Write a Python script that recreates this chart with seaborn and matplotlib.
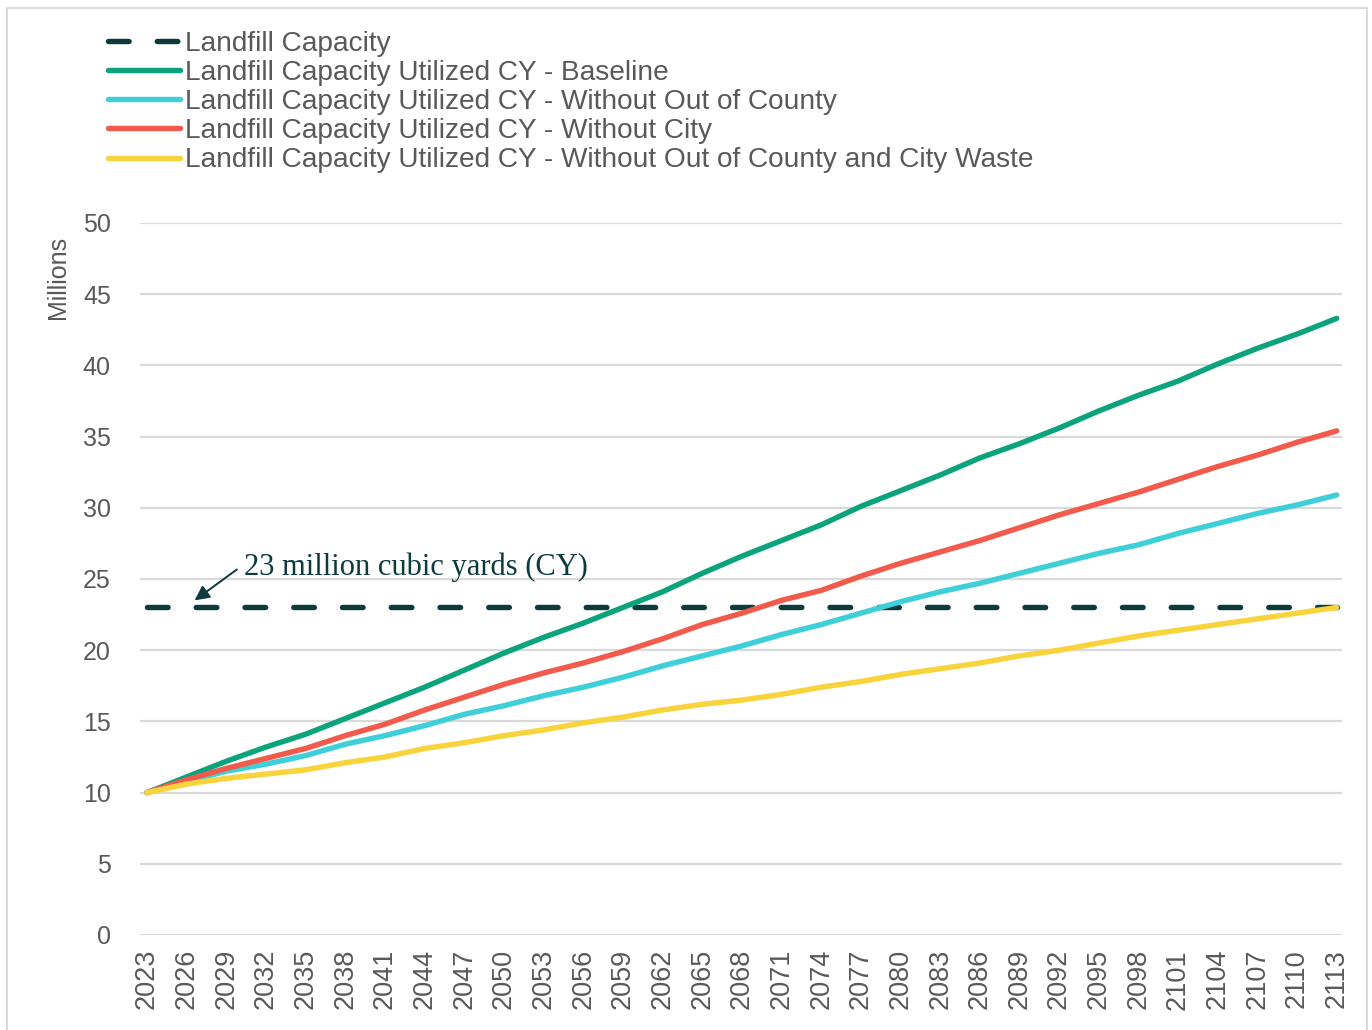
import matplotlib
matplotlib.use("Agg")
import matplotlib.pyplot as plt
import seaborn as sns
import pandas as pd
from matplotlib.patches import Rectangle

# ---- data (millions of cubic yards) ----
years = [2023, 2026, 2029, 2032, 2035, 2038, 2041, 2044, 2047, 2050, 2053,
         2056, 2059, 2062, 2065, 2068, 2071, 2074, 2077, 2080, 2083, 2086,
         2089, 2092, 2095, 2098, 2101, 2104, 2107, 2110, 2113]

baseline = [10.0, 11.1, 12.2, 13.2, 14.1, 15.2, 16.3, 17.4, 18.6, 19.8, 20.9,
            21.9, 23.0, 24.1, 25.4, 26.6, 27.7, 28.8, 30.1, 31.2, 32.3, 33.5,
            34.5, 35.6, 36.8, 37.9, 38.9, 40.1, 41.2, 42.2, 43.3]

without_out_of_county = [10.0, 10.8, 11.5, 12.0, 12.6, 13.4, 14.0, 14.7, 15.5, 16.1, 16.8,
                         17.4, 18.1, 18.9, 19.6, 20.3, 21.1, 21.8, 22.6, 23.4, 24.1, 24.7,
                         25.4, 26.1, 26.8, 27.4, 28.2, 28.9, 29.6, 30.2, 30.9]

without_city = [10.0, 10.9, 11.7, 12.4, 13.1, 14.0, 14.8, 15.8, 16.7, 17.6, 18.4,
                19.1, 19.9, 20.8, 21.8, 22.6, 23.5, 24.2, 25.2, 26.1, 26.9, 27.7,
                28.6, 29.5, 30.3, 31.1, 32.0, 32.9, 33.7, 34.6, 35.4]

without_both = [10.0, 10.6, 11.0, 11.3, 11.6, 12.1, 12.5, 13.1, 13.5, 14.0, 14.4,
                14.9, 15.3, 15.8, 16.2, 16.5, 16.9, 17.4, 17.8, 18.3, 18.7, 19.1,
                19.6, 20.0, 20.5, 21.0, 21.4, 21.8, 22.2, 22.6, 23.0]

capacity_years = [2023, 2113]
capacity_values = [23.0, 23.0]

labels = [
    "Landfill Capacity",
    "Landfill Capacity Utilized CY - Baseline",
    "Landfill Capacity Utilized CY - Without Out of County",
    "Landfill Capacity Utilized CY - Without City",
    "Landfill Capacity Utilized CY - Without Out of County and City Waste",
]
colors = ["#0b3b3d", "#0aa37c", "#3ecfd8", "#f25b4b", "#f8d33c"]

y_ticks = [0, 5, 10, 15, 20, 25, 30, 35, 40, 45, 50]
annotation_text = "23 million cubic yards (CY)"

# ---- styling ----
sns.set_theme(style="white")
plt.rcParams["font.family"] = ["Liberation Sans", "DejaVu Sans"]

W, H = 1372, 1030
fig = plt.figure(figsize=(W / 100, H / 100), dpi=100)
ax = fig.add_axes([140 / W, 1 - 935 / H, (1342 - 140) / W, (935 - 223) / H])

lw = 3.9
series = [baseline, without_out_of_county, without_city, without_both]
for vals, lab, col in zip(series, labels[1:], colors[1:]):
    df = pd.DataFrame({"year": years, "value": vals})
    sns.lineplot(data=df, x="year", y="value", ax=ax, color=col, lw=lw,
                 label=lab, solid_capstyle="round", solid_joinstyle="round",
                 legend=False)

cap_df = pd.DataFrame({"year": capacity_years, "value": capacity_values})
sns.lineplot(data=cap_df, x="year", y="value", ax=ax, color=colors[0], lw=lw,
             label=labels[0], dash_capstyle="round", legend=False)
cap_line = ax.lines[-1]
cap_line.set_dashes((3.8, 5.2))
cap_line.set_zorder(1.5)

ax.set_xlim(2022.47, 2113.4)
ax.set_ylim(0, 50)
ax.set_yticks(y_ticks)
ax.set_xticks(years)
ax.set_xticklabels([str(y) for y in years], rotation=90, fontsize=19.5,
                   color="#595959")
ax.set_yticklabels([str(v) for v in y_ticks], fontsize=18, color="#595959")
ax.tick_params(axis="y", length=0, pad=21)
ax.tick_params(axis="x", length=0, pad=10)
ax.grid(axis="y", color="#d9d9d9", lw=1.6)
ax.set_axisbelow(True)
for s in ax.spines.values():
    s.set_visible(False)

ax.set_xlabel("")
ax.set_ylabel("Millions", fontsize=18, color="#595959")
ax.yaxis.set_label_coords((70 - 140) / (1342 - 140), (935 - 277) / (935 - 223))

# annotation for the capacity line
ax.annotate(annotation_text, xy=(2026.6, 23.5), xytext=(2030.3, 25.8),
            fontsize=22, family=["Liberation Serif", "DejaVu Serif"],
            color="#0b3b3d", ha="left", va="center",
            arrowprops=dict(arrowstyle="-|>", color="#0b3b3d", lw=1.4,
                            mutation_scale=22, relpos=(0, 0.6),
                            shrinkA=3, shrinkB=0))

# legend above the plot area
handles, labs = ax.get_legend_handles_labels()
order = [labs.index(l) for l in labels]
fig.legend([handles[i] for i in order], [labs[i] for i in order],
           loc="upper left", bbox_to_anchor=(108 / W, 1 - 31 / H),
           frameon=False, fontsize=20.2, handlelength=2.55, handletextpad=0.18,
           labelspacing=0.11, borderpad=0, borderaxespad=0, labelcolor="#595959")

# light frame around the figure
fig.patches.append(Rectangle((7 / W, -0.01), (1367 - 7) / W, 1.01 - 8 / H,
                             transform=fig.transFigure, fill=False,
                             edgecolor="#d9d9d9", lw=1.5))

fig.savefig("out.png", dpi=100)
